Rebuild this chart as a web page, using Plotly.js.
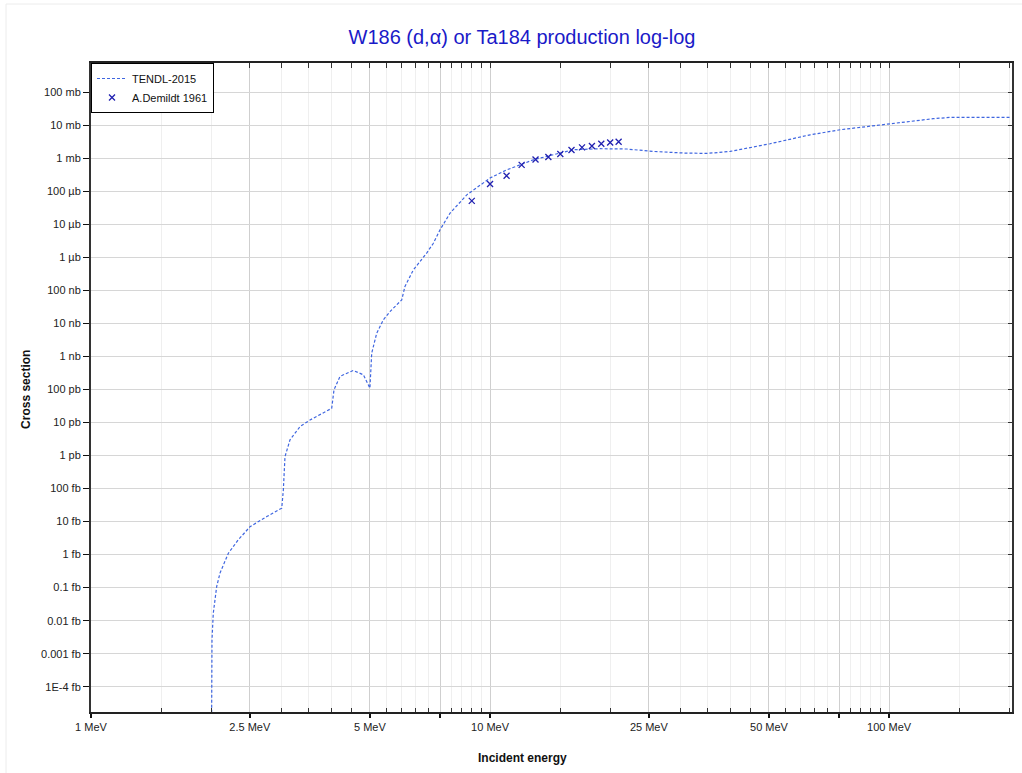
<!DOCTYPE html>
<html>
<head>
<meta charset="utf-8">
<script src="https://cdn.plot.ly/plotly-3.0.1.min.js"></script>
<style>html,body{margin:0;padding:0;background:#fff;}#plot{width:1022px;height:773px;}</style>
</head>
<body>
<div id="plot"></div>
<script>
// TENDL-2015 evaluated curve: incident energy (MeV) and cross section (barn)
const tendlEnergy = [2.004, 2.010, 2.025, 2.065, 2.105, 2.209, 2.339, 2.503, 2.757, 3.006,
  3.034, 3.063, 3.153, 3.342, 3.54, 4.01,
  4.064, 4.207, 4.54, 4.814, 5.0,
  5.052, 5.20, 5.403, 5.613, 6.007, 6.12, 6.424, 6.937, 7.21, 7.494, 7.94, 8.745,
  10.0, 11.01, 12.84, 14.98, 16.18, 18.87, 22.01, 25.66, 30.52, 35.0, 39.95, 50.33, 63.4, 75.4,
  100.6, 129, 142, 175, 202];
const tendlXS = [1e-21, 2.6e-18, 1.67e-17, 1.07e-16, 2.75e-16, 1.1e-15, 2.8e-15, 7.0e-15, 1.42e-14, 2.55e-14,
  9.1e-14, 9.3e-13, 3.0e-12, 7.6e-12, 1.2e-11, 2.7e-11,
  9.8e-11, 2.5e-10, 3.8e-10, 2.8e-10, 1.1e-10,
  1.27e-9, 5.1e-9, 1.3e-8, 2.3e-8, 5.2e-8, 1.32e-7, 4.2e-7, 1.36e-6, 2.7e-6, 6.9e-6, 2.2e-5, 7.9e-5,
  2.55e-4, 4.5e-4, 9.1e-4, 1.46e-3, 1.84e-3, 1.97e-3, 1.93e-3, 1.63e-3, 1.46e-3, 1.42e-3, 1.63e-3, 2.79e-3, 5.2e-3, 7.4e-3,
  1.15e-2, 1.6e-2, 1.75e-2, 1.77e-2, 1.75e-2];

// A.Demildt 1961 measurements
const expEnergy = [9, 10, 11, 12, 13, 14, 15, 16, 17, 18, 19, 20, 21];
const expXS = [5.2e-5, 1.68e-4, 3.0e-4, 6.4e-4, 9.3e-4, 1.10e-3, 1.36e-3, 1.80e-3, 2.16e-3, 2.38e-3, 2.79e-3, 3.05e-3, 3.21e-3];

// Axis ticks
const xMajorVals = [1, 2.5, 5, 7.5, 10, 25, 50, 75, 100];
const xMajorText = ['1 MeV', '2.5 MeV', '5 MeV', '', '10 MeV', '25 MeV', '50 MeV', '', '100 MeV'];
const xMinorVals = [1.5, 2, 3, 3.5, 4, 4.5, 5.5, 6, 6.5, 7, 8, 8.5, 9, 9.5,
  15, 20, 30, 35, 40, 45, 55, 60, 65, 70, 80, 85, 90, 95, 150, 200];
const yTickVals = [1e-1, 1e-2, 1e-3, 1e-4, 1e-5, 1e-6, 1e-7, 1e-8, 1e-9, 1e-10, 1e-11, 1e-12,
  1e-13, 1e-14, 1e-15, 1e-16, 1e-17, 1e-18, 1e-19];
const yTickText = ['100 mb', '10 mb', '1 mb', '100 µb', '10 µb', '1 µb', '100 nb', '10 nb', '1 nb',
  '100 pb', '10 pb', '1 pb', '100 fb', '10 fb', '1 fb', '0.1 fb', '0.01 fb', '0.001 fb', '1E-4 fb'];

const FONT = 'Liberation Sans, Arial, sans-serif';
const xRange = [0, 2.308];
const yRange = [-19.767, -0.109];

const traces = [
  {
    x: tendlEnergy, y: tendlXS, type: 'scatter', mode: 'lines', name: 'TENDL-2015',
    line: {color: '#3f66e0', width: 1.2, dash: '3px,2px'}
  },
  {
    x: expEnergy, y: expXS, type: 'scatter', mode: 'markers', name: 'A.Demildt 1961',
    marker: {symbol: 'x-thin', size: 6, color: '#2020b0', line: {color: '#2020b0', width: 1.3}}
  },
  {
    x: [], y: [], xaxis: 'x2', yaxis: 'y2', type: 'scatter', mode: 'lines', showlegend: false, hoverinfo: 'skip'
  }
];

const layout = {
  width: 1022, height: 773,
  margin: {l: 91, r: 10, t: 63, b: 61},
  paper_bgcolor: '#ffffff', plot_bgcolor: '#ffffff',
  font: {family: FONT, size: 11, color: '#222'},
  title: {
    text: 'W186 (d,α) or Ta184 production log-log',
    x: 522 / 1022, xref: 'container', xanchor: 'center',
    y: 1 - 37 / 773, yref: 'container', yanchor: 'middle',
    font: {family: FONT, size: 20, color: '#1a1ac8'}
  },
  showlegend: true,
  legend: {
    x: 0, y: 1, xanchor: 'left', yanchor: 'top',
    bgcolor: '#ffffff', bordercolor: '#000000', borderwidth: 1,
    font: {family: FONT, size: 11, color: '#111'},
    tracegroupgap: 0, itemwidth: 30
  },
  xaxis: {
    type: 'log', range: xRange, autorange: false,
    tickmode: 'array', tickvals: xMajorVals, ticktext: xMajorText,
    ticks: 'outside', ticklen: 4, tickwidth: 1.5, tickcolor: '#111',
    showgrid: true, gridcolor: '#cfcfcf', gridwidth: 1,
    minor: {tickmode: 'array', tickvals: xMinorVals, ticks: 'inside', ticklen: 4, tickcolor: '#333', tickwidth: 1,
      showgrid: true, gridcolor: '#efefef', gridwidth: 1},
    showline: true, linecolor: '#222', linewidth: 2, mirror: true,
    zeroline: false, tickfont: {family: FONT, size: 11, color: '#222'}
  },
  yaxis: {
    type: 'log', range: yRange, autorange: false,
    tickmode: 'array', tickvals: yTickVals, ticktext: yTickText,
    ticks: 'outside', ticklen: 6, tickwidth: 1.5, tickcolor: '#111',
    showgrid: true, gridcolor: '#d6d6d6', gridwidth: 1.5,
    showline: true, linecolor: '#333', linewidth: 2, mirror: true,
    zeroline: false, tickfont: {family: FONT, size: 11, color: '#222'}
  },
  xaxis2: {
    type: 'log', range: xRange, autorange: false, overlaying: 'x', side: 'top',
    tickmode: 'array', tickvals: xMajorVals.concat(xMinorVals), ticks: 'inside', ticklen: 5, tickcolor: '#333',
    showticklabels: false, showgrid: false, zeroline: false, showline: false
  },
  yaxis2: {
    type: 'log', range: yRange, autorange: false, overlaying: 'y', side: 'right',
    tickmode: 'array', tickvals: yTickVals, ticks: 'inside', ticklen: 4, tickcolor: '#333', tickwidth: 1.5,
    showticklabels: false, showgrid: false, zeroline: false, showline: false
  },
  annotations: [
    {text: '<b>Incident energy</b>', xref: 'paper', yref: 'paper', x: (522 - 91) / 921, y: (712 - 758) / 649,
      xanchor: 'center', yanchor: 'middle', showarrow: false, font: {family: FONT, size: 12, color: '#111'}},
    {text: '<b>Cross section</b>', xref: 'paper', yref: 'paper', x: (26.5 - 91) / 921, y: 0.497,
      xanchor: 'center', yanchor: 'middle', textangle: -90, showarrow: false, font: {family: FONT, size: 12, color: '#111'}}
  ],
  shapes: [
    {type: 'rect', xref: 'paper', yref: 'paper', x0: (6 - 91) / 921, x1: 1.05, y0: -0.2, y1: 1 + (63 - 4) / 649,
      line: {color: '#ececec', width: 1}, layer: 'below'}
  ]
};

Plotly.newPlot('plot', traces, layout, {displayModeBar: false, staticPlot: true});
</script>
</body>
</html>
